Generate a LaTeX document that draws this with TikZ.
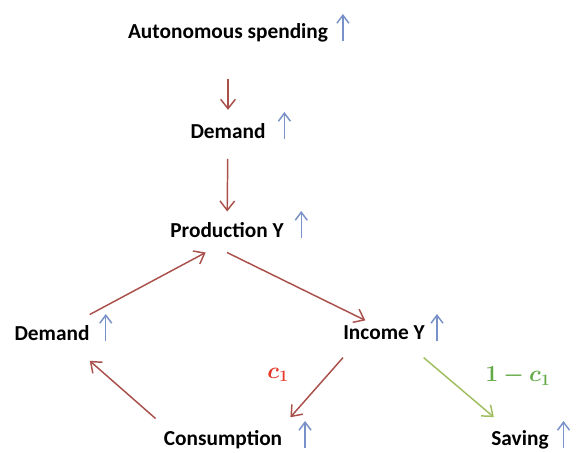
\documentclass[tikz,border=0pt]{standalone}
\usepackage{fontspec}
\setmainfont{Carlito}
\usepackage{amsmath,bm}
\usepackage{tikz}
\usetikzlibrary{arrows.meta,positioning}
\definecolor{flow}{RGB}{170,80,75}
\definecolor{rise}{RGB}{120,145,200}
\definecolor{leak}{RGB}{160,190,95}
\definecolor{share}{RGB}{230,55,40}
\definecolor{rest}{RGB}{100,170,70}

\begin{document}
\begin{tikzpicture}[
  x=0.75pt,y=-0.75pt,
  item/.style={font=\fontsize{16}{19}\selectfont\bfseries,inner sep=2pt},
  coef/.style={font=\fontsize{17}{20}\selectfont,text=#1},
  link/.style={-{Straight Barb[length=7pt,width=11pt]},line width=1.1pt,color=#1},
  link/.default=flow,
  up/.style={-{Straight Barb[length=6pt,width=9pt]},line width=1.1pt,color=rise}
]
  \useasboundingbox (0,0) rectangle (580,452);

  % Chain from the top
  \node[item] (aut) at (228,33) {Autonomous spending};
  \node[item] (dem) at (228,131) {Demand};
  \node[item] (prod) at (227,230) {Production Y};

  % The loop
  \node[item] (inc) at (384,333) {Income Y};
  \node[item] (dem2) at (52,333) {Demand};
  \node[item] (cons) at (223,440) {Consumption};
  \node[item] (sav) at (520,440) {Saving};

  % Rising markers
  \foreach \n/\d in {aut/9pt,dem/12pt,prod/11pt,inc/7pt,dem2/10pt,cons/15pt,sav/9pt}
    \draw[up] ([xshift=\d,yshift=-6pt]\n.east) -- ++(0,-27);

  % Arrows
  \draw[link,shorten <=25pt,shorten >=8pt] (aut) -- (dem);
  \draw[link,shorten <=13pt,shorten >=6pt] (dem) -- (prod);
  \draw[link] ([yshift=-9pt]prod.south) -- ([xshift=-14pt,yshift=2pt]inc.north);
  \draw[link] ([xshift=-2pt,yshift=6pt]dem2.north east) -- ([xshift=-16pt,yshift=-9pt]prod.south);
  \draw[link] ([xshift=-4pt,yshift=7pt]cons.north west) -- ([xshift=-2pt,yshift=-13pt]dem2.south east);
  \draw[link] ([xshift=2pt,yshift=-11pt]inc.south west) -- ([xshift=4pt,yshift=8pt]cons.north east);
  \draw[link=leak] ([xshift=-3pt,yshift=-11pt]inc.south east) -- ([xshift=4pt,yshift=8pt]sav.north west);

  % Shares of income
  \node[coef=share] (c) at (278,375) {$\bm{c_1}$};
  \node[coef=rest] (s) at (518,376) {$\bm{1-c_1}$};
\end{tikzpicture}
\end{document}
